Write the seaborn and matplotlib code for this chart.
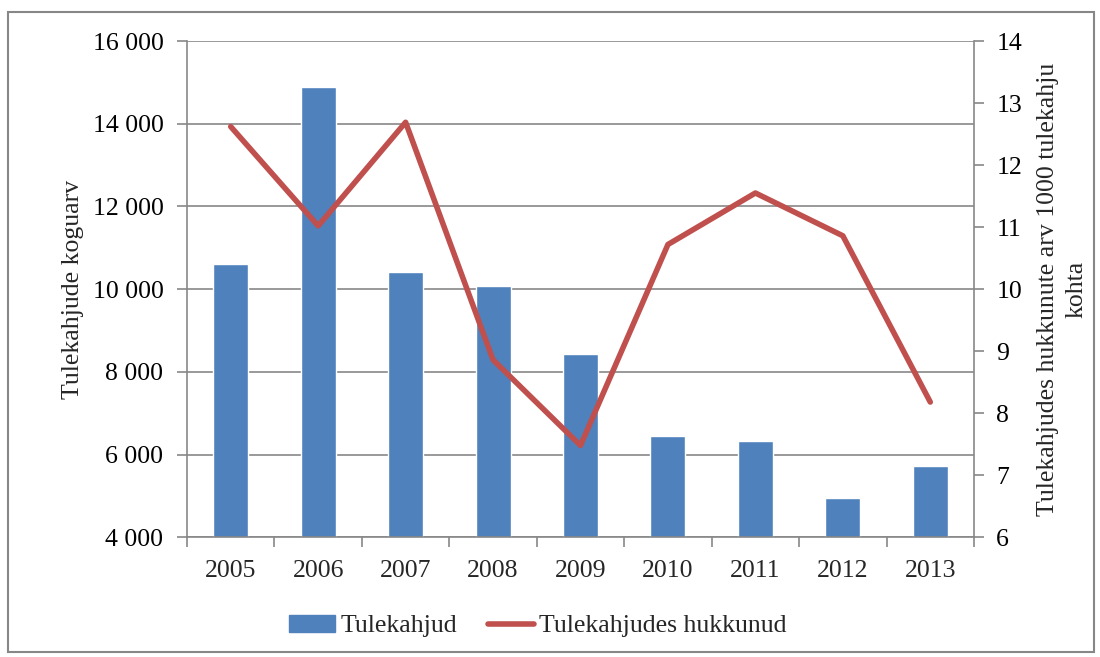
import numpy as np
import pandas as pd
import matplotlib
matplotlib.use('Agg')
import matplotlib.pyplot as plt
import matplotlib.ticker as mticker
from matplotlib.patches import Rectangle, Patch
from matplotlib.lines import Line2D
import seaborn as sns

# Data
years = ['2005', '2006', '2007', '2008', '2009', '2010', '2011', '2012', '2013']
fires = [10620, 14890, 10410, 10065, 8434, 6441, 6320, 4947, 5725]
deaths_per_1000 = [12.62, 11.02, 12.69, 8.86, 7.48, 10.72, 11.55, 10.86, 8.18]

df = pd.DataFrame({'Aasta': years, 'Tulekahjud': fires,
                   'Hukkunud': deaths_per_1000})

sns.set_theme(style='white')
plt.rcParams['font.family'] = ['Liberation Serif', 'DejaVu Serif']
fs = 18.5
bar_col = '#4F81BD'
line_col = '#C0504D'
grid_col = '#878787'

fig = plt.figure(figsize=(11, 6.57), dpi=100)
ax = fig.add_axes([187/1100, 1 - 537.3/657, (974-187)/1100, (537.3-41)/657])

sns.barplot(data=df, x='Aasta', y='Tulekahjud', color=bar_col, width=0.4,
            saturation=1, ax=ax, zorder=2)
ax.set_ylim(4000, 16000)
ax.set_yticks(np.arange(4000, 16001, 2000))
ax.yaxis.set_major_formatter(mticker.FuncFormatter(lambda v, p: f'{int(v):,}'.replace(',', ' ')))
ax.grid(axis='y', color=grid_col, lw=1.2, zorder=0)
ax.set_axisbelow(True)
ax.set_xlim(-0.5, len(years) - 0.5)
ax.set_xlabel('')
ax.set_ylabel('Tulekahjude koguarv', fontsize=fs, labelpad=6)

ax2 = ax.twinx()
sns.lineplot(data=df, x='Aasta', y='Hukkunud', color=line_col, lw=4,
             ax=ax2, sort=False)
ax2.set_ylim(6, 14)
ax2.set_yticks(np.arange(6, 15, 1))
ax2.set_ylabel('Tulekahjudes hukkunute arv 1000 tulekahju\nkohta', fontsize=fs,
               labelpad=11, linespacing=1.35)
ax2.set_xlim(-0.5, len(years) - 0.5)

for a in (ax, ax2):
    for s in a.spines.values():
        s.set_color(grid_col)
        s.set_linewidth(1.2)
    a.spines['top'].set_visible(False)
    a.tick_params(axis='y', labelsize=fs, colors='black', length=7, width=1.2,
                  color=grid_col, direction='out')
ax.spines['right'].set_visible(False)
ax2.spines['left'].set_visible(False)
ax2.spines['bottom'].set_visible(False)
ax.tick_params(axis='y', left=True, pad=10)
ax2.tick_params(axis='y', right=True, pad=9)

ax.tick_params(axis='x', which='major', labelsize=fs, length=0, pad=16)
ax.set_xticks(np.arange(-0.5, len(years)), minor=True)
ax.tick_params(axis='x', which='minor', bottom=True, length=7, width=1.2,
               color=grid_col, direction='out')

handles = [Patch(color=bar_col), Line2D([0], [0], color=line_col, lw=4)]
fig.legend(handles, ['Tulekahjud', 'Tulekahjudes hukkunud'], loc='center',
           bbox_to_anchor=(538/1100, 1 - 626/657), ncol=2, frameon=False,
           fontsize=fs, handlelength=1.8, handletextpad=0.2, columnspacing=1.2)

fig.patches.append(Rectangle((8/1100, 1 - 652/657), 1086/1100, 640/657,
                             transform=fig.transFigure, fill=False,
                             edgecolor=grid_col, lw=1.5))

fig.savefig('out.png', dpi=100)
